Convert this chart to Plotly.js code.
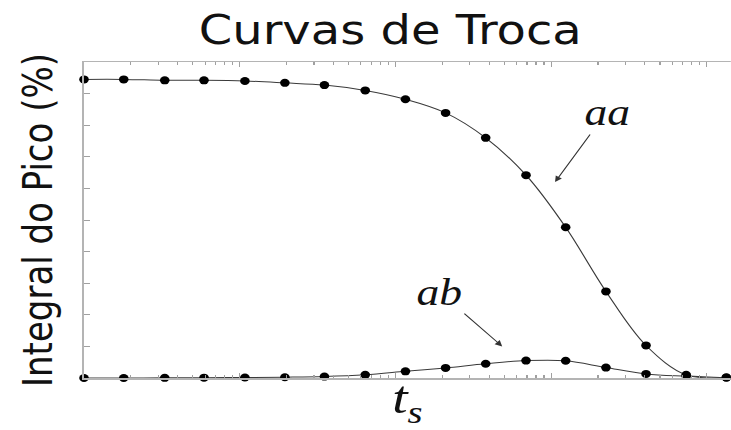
<!DOCTYPE html>
<html>
<head>
<meta charset="utf-8">
<script src="https://cdn.plot.ly/plotly-3.0.1.min.js"></script>
<style>
  html, body { margin: 0; padding: 0; background: #fff; overflow: hidden; }
  #wrap { width: 731px; height: 430px; overflow: hidden; }
  /* figure is laid out narrow and widened horizontally */
  #plot { width: 609px; height: 430px; transform: scaleX(1.2); transform-origin: 0 0; }
</style>
</head>
<body>
<div id="wrap"><div id="plot"></div></div>
<script>
// exchange time t_s (log scale)
const ts = [1, 1.8, 3.3, 5.9, 10.8, 19.5, 35, 64, 116, 210, 380, 690, 1240, 2250, 4070, 7370, 13350];

// peak integral (%) of the two exchange curves
const aa = [94.5, 94.5, 94.2, 94.2, 94.0, 93.4, 92.7, 91.0, 88.2, 83.9, 76.0, 64.2, 47.7, 27.4, 10.3, 1.0, 0.2];
const ab = [0, 0, 0.05, 0.1, 0.15, 0.25, 0.45, 1.0, 2.1, 3.2, 4.5, 5.5, 5.45, 3.3, 1.3, 0.6, 0.1];

const curveLabels = ['aa', 'ab'];

const frameColor = '#b4b4b4';
const tickColor = '#a0a0a0';

function series(y) {
  return {
    x: ts, y: y, type: 'scatter', mode: 'lines+markers',
    line: { color: '#3a3a3a', width: 1, shape: 'spline', smoothing: 1 },
    marker: { color: '#000', size: 8 },
    cliponaxis: false,
    hoverinfo: 'x+y'
  };
}

const labelFont = { family: 'Liberation Serif, serif', size: 38, color: '#111' };

// curve label with an arrow pointing at the curve
function curveTag(label, headX, headY, ax, ay) {
  return {
    x: Math.log10(headX), y: headY, xref: 'x', yref: 'y',
    text: '<i>' + label + '</i>', font: labelFont,
    showarrow: true, arrowhead: 2, arrowsize: 1.2, arrowwidth: 1, arrowcolor: '#333',
    standoff: 0, ax: ax, ay: ay
  };
}

const layout = {
  width: 609, height: 430,
  margin: { l: 70, r: 0, t: 62, b: 52 },
  paper_bgcolor: '#fff', plot_bgcolor: '#fff',
  showlegend: false,
  title: {
    text: 'Curvas de Troca',
    font: { family: 'DejaVu Sans, sans-serif', size: 40, color: '#111' },
    xref: 'container', x: 0.534, xanchor: 'center',
    yref: 'container', y: 0.93, yanchor: 'middle'
  },
  xaxis: {
    type: 'log', range: [0, 4.154],
    showgrid: false, zeroline: false,
    showline: true, linecolor: frameColor, linewidth: 1.5, mirror: 'ticks',
    ticks: 'inside', ticklen: 5, tickcolor: tickColor, tickwidth: 1, dtick: 1,
    minor: { ticks: 'inside', ticklen: 3, tickcolor: tickColor, dtick: 'D1' },
    showticklabels: false,
    title: {
      text: '<i>t</i><sub><i>s</i></sub>',
      font: { family: 'Liberation Serif, serif', size: 46, color: '#111' },
      standoff: 4
    }
  },
  yaxis: {
    range: [0, 100],
    showgrid: false, zeroline: false,
    showline: true, linecolor: frameColor, linewidth: 1.5, mirror: false,
    ticks: 'inside', ticklen: 5, tickcolor: tickColor, tickwidth: 1, dtick: 10,
    showticklabels: false,
    title: {
      text: 'Integral do Pico (%)',
      font: { family: 'DejaVu Sans, sans-serif', size: 34, color: '#111' },
      standoff: 14
    }
  },
  annotations: [
    curveTag(curveLabels[0], 1060, 62, 43, -70),
    curveTag(curveLabels[1], 485, 10, -52, -54)
  ]
};

Plotly.newPlot('plot', [series(aa), series(ab)], layout, { staticPlot: true, displayModeBar: false });
</script>
</body>
</html>
